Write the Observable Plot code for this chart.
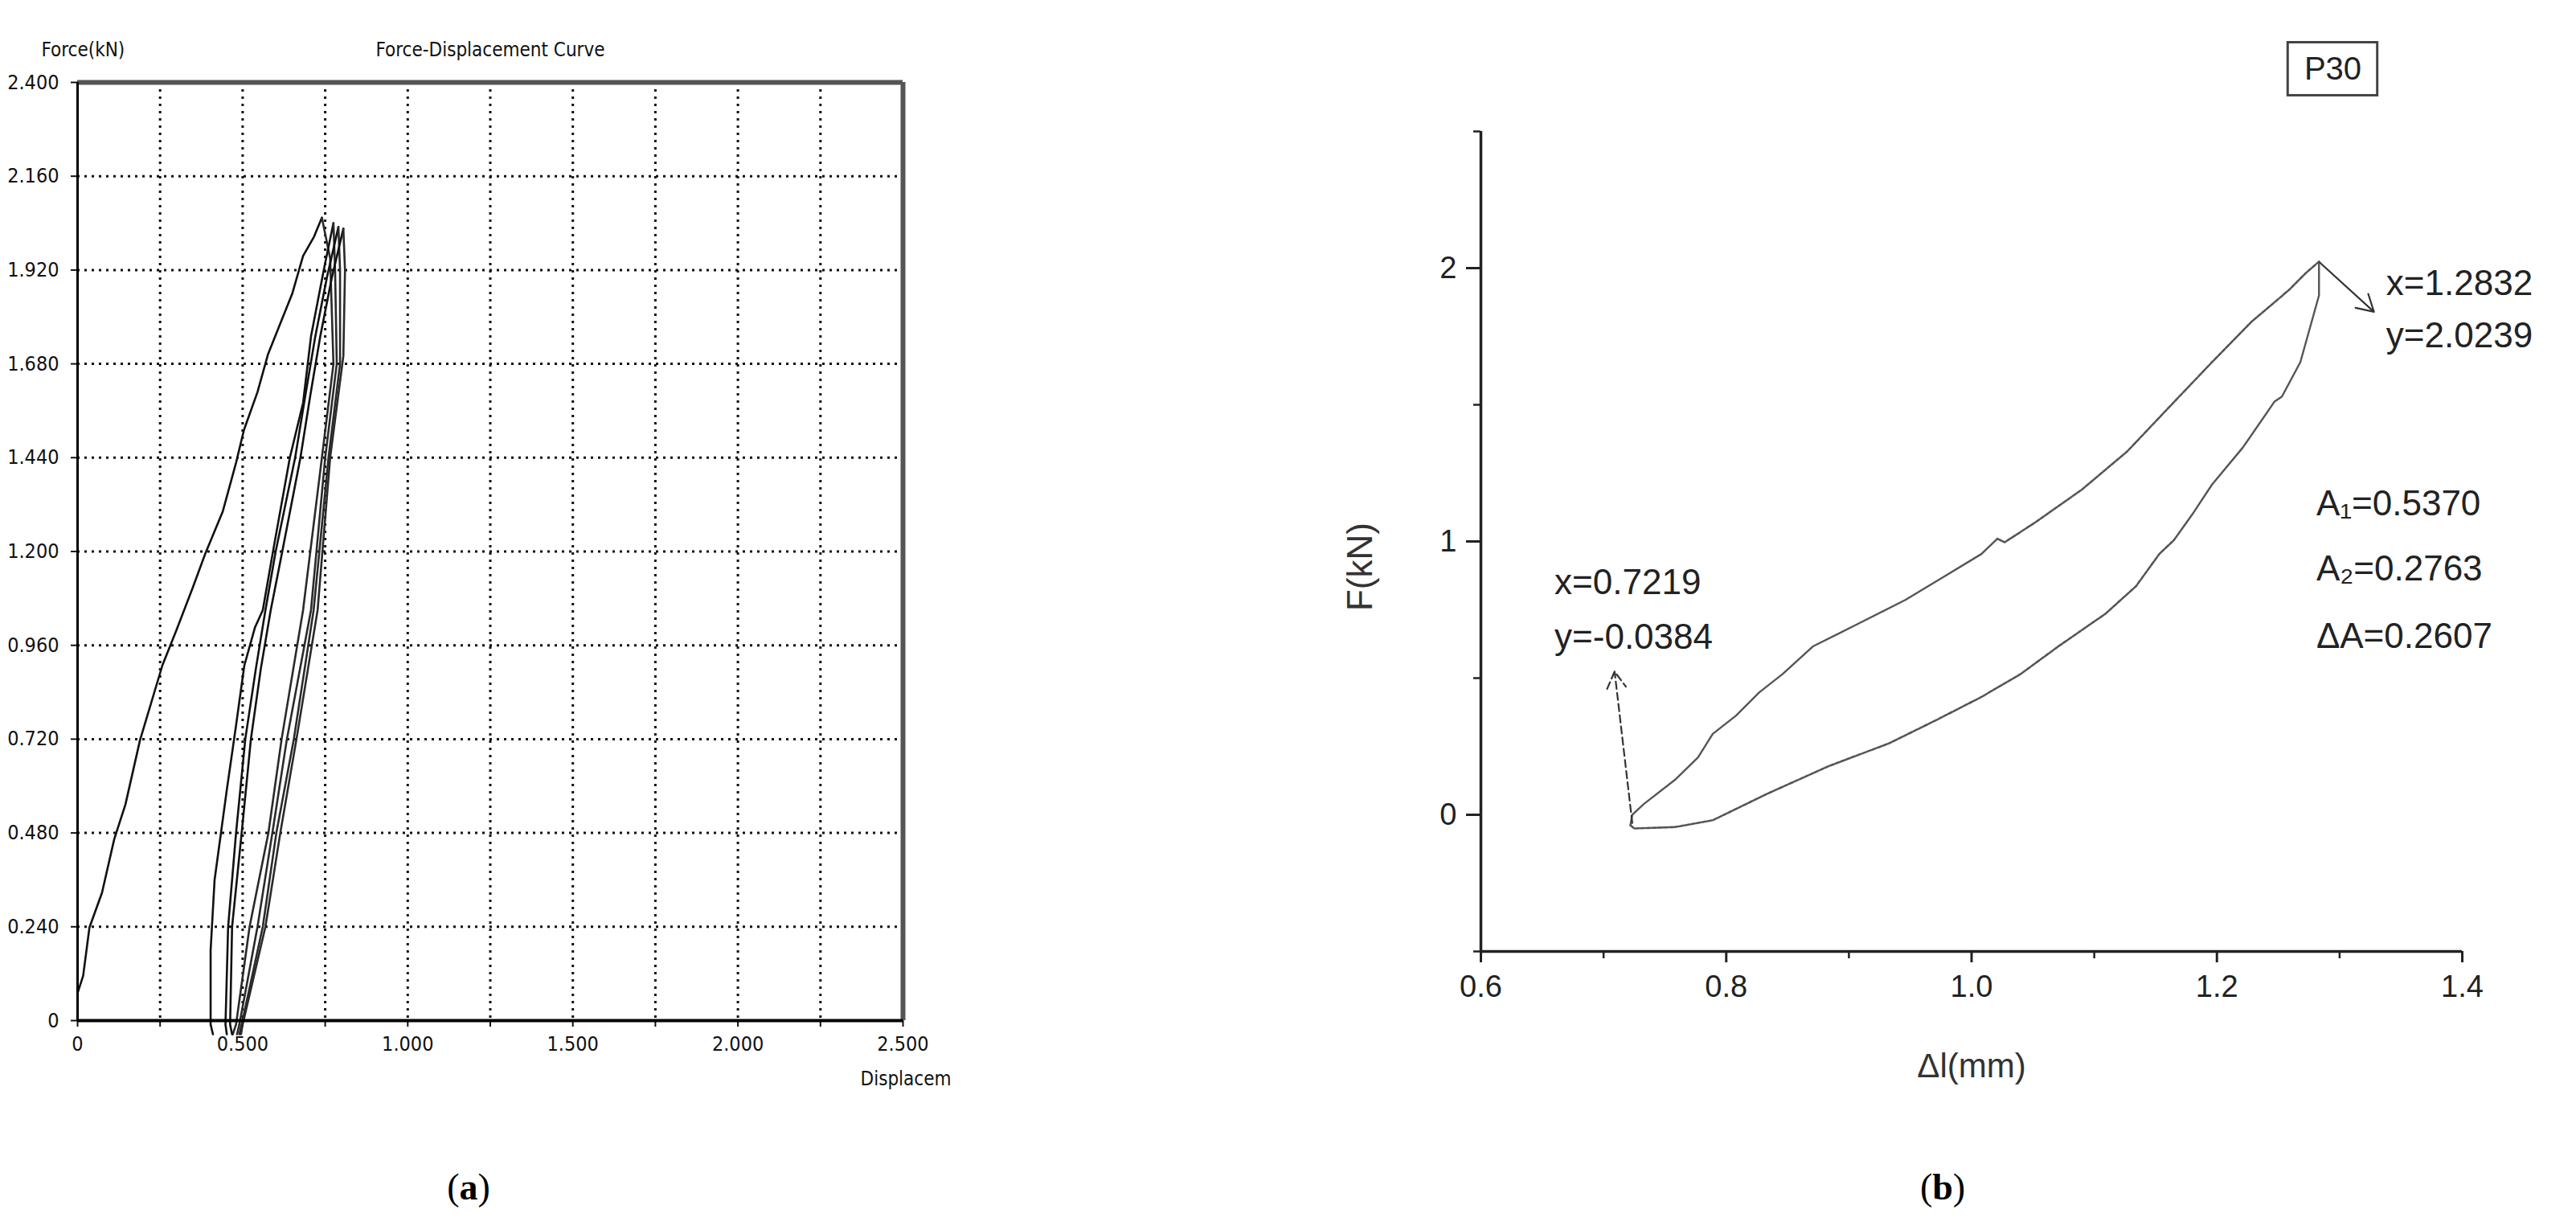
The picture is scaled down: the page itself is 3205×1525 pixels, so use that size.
<!DOCTYPE html>
<html>
<head>
<meta charset="utf-8">
<script src="https://cdn.jsdelivr.net/npm/d3@7"></script>
<script src="https://cdn.jsdelivr.net/npm/@observablehq/plot@0.6"></script>
<style>
  html, body { margin: 0; padding: 0; background: #fff; }
  #page { position: relative; width: 3205px; height: 1525px; overflow: hidden; background: #fff; }
  #pa { position: absolute; left: 0; top: 0; }
  #pb { position: absolute; left: 1600px; top: 0; }
  .cap { position: absolute; top: 1450px; font-family: "Liberation Serif", "DejaVu Serif", serif; font-size: 46px; color: #000; transform: translateX(-50%); }
</style>
</head>
<body>
<div id="page">
  <div id="pa"></div>
  <div id="pb"></div>
  <div class="cap" style="left:583px">(<b>a</b>)</div>
  <div class="cap" style="left:2417px">(<b>b</b>)</div>
</div>
<script>
// ---------- Panel (a) data ----------
const aXTicks = [0, 0.25, 0.5, 0.75, 1, 1.25, 1.5, 1.75, 2, 2.25, 2.5];
const aXLabels = {0: "0", 0.5: "0.500", 1: "1.000", 1.5: "1.500", 2: "2.000", 2.5: "2.500"};
const aYTicks = [0, 0.24, 0.48, 0.72, 0.96, 1.2, 1.44, 1.68, 1.92, 2.16, 2.4];
const aYLabels = ["0", "0.240", "0.480", "0.720", "0.960", "1.200", "1.440", "1.680", "1.920", "2.160", "2.400"];
const aTitle = "Force-Displacement Curve";
const aYTitle = "Force(kN)";
const aXTitle = "Displacem";

// first loading curve
const aLoad0X = [0, 0.017, 0.036, 0.074, 0.111, 0.145, 0.189, 0.257, 0.30, 0.35, 0.387, 0.44, 0.48, 0.504, 0.545, 0.577, 0.61, 0.65, 0.683, 0.716, 0.74];
const aLoad0Y = [0.07, 0.115, 0.238, 0.327, 0.464, 0.553, 0.717, 0.909, 1.0, 1.11, 1.195, 1.303, 1.427, 1.511, 1.608, 1.705, 1.775, 1.859, 1.956, 2.005, 2.054];
// unloading branches
const aUn1X = [0.740, 0.765, 0.775, 0.74, 0.683, 0.618, 0.578, 0.521, 0.48, 0.47];
const aUn1Y = [2.054, 1.95, 1.68, 1.44, 1.05, 0.72, 0.48, 0.24, -0.01, -0.035];
const aUn2X = [0.775, 0.78, 0.785, 0.75, 0.707, 0.634, 0.59, 0.545, 0.49, 0.483];
const aUn2Y = [2.04, 1.92, 1.68, 1.44, 1.05, 0.72, 0.48, 0.24, -0.01, -0.035];
const aUn3X = [0.79, 0.795, 0.795, 0.76, 0.715, 0.655, 0.602, 0.561, 0.497, 0.49];
const aUn3Y = [2.03, 1.92, 1.68, 1.44, 1.05, 0.72, 0.48, 0.24, -0.01, -0.035];
const aUn4X = [0.805, 0.81, 0.805, 0.765, 0.727, 0.663, 0.614, 0.569, 0.50, 0.495];
const aUn4Y = [2.026, 1.92, 1.70, 1.44, 1.05, 0.72, 0.48, 0.24, -0.01, -0.035];
// reloading branches
const aRe1X = [0.41, 0.403, 0.403, 0.415, 0.452, 0.48, 0.505, 0.537, 0.561, 0.594, 0.643, 0.683, 0.707, 0.732, 0.748, 0.775];
const aRe1Y = [-0.035, -0.01, 0.18, 0.36, 0.59, 0.755, 0.908, 1.005, 1.05, 1.21, 1.44, 1.58, 1.75, 1.86, 1.93, 2.04];
const aRe2X = [0.452, 0.448, 0.456, 0.48, 0.508, 0.54, 0.569, 0.60, 0.659, 0.69, 0.72, 0.755, 0.79];
const aRe2Y = [-0.035, -0.01, 0.24, 0.48, 0.72, 0.9, 1.05, 1.2, 1.44, 1.6, 1.75, 1.9, 2.03];
const aRe3X = [0.468, 0.462, 0.468, 0.497, 0.525, 0.555, 0.585, 0.62, 0.675, 0.705, 0.735, 0.77, 0.805];
const aRe3Y = [-0.035, -0.01, 0.24, 0.48, 0.72, 0.9, 1.05, 1.2, 1.44, 1.6, 1.75, 1.9, 2.026];

// ---------- Panel (b) data ----------
const bXMajor = [0.6, 0.8, 1.0, 1.2, 1.4];
const bXMinor = [0.7, 0.9, 1.1, 1.3];
const bYMajor = [0, 1, 2];
const bYMinor = [-0.5, 0.5, 1.5, 2.5];
const bXTitle = "\u0394l(mm)";
const bYTitle = "F(kN)";
const bYTitlePos = {x: 0.502, y: 0.907};
const bTag = "P30";
const bTagBox = {x1: 1.258, x2: 1.331, y1: 2.631, y2: 2.825};

// upper branch: solid part then serrated part
const bUpSolidX = [0.7219, 0.7234, 0.733, 0.758, 0.777, 0.789, 0.808, 0.827, 0.846, 0.871, 0.908, 0.946, 0.977, 1.008, 1.021];
const bUpSolidY = [-0.0384, 0.0, 0.04, 0.127, 0.21, 0.296, 0.363, 0.448, 0.515, 0.617, 0.70, 0.786, 0.87, 0.954, 1.01];
const bUpStepX = [1.021, 1.027, 1.052, 1.09, 1.127, 1.165, 1.196, 1.228, 1.259, 1.272, 1.2832];
const bUpStepY = [1.01, 0.997, 1.07, 1.19, 1.33, 1.51, 1.656, 1.803, 1.921, 1.98, 2.0239];
// lower branch: serrated part then solid part
const bLoStepX = [0.7219, 0.725, 0.758, 0.789, 0.833, 0.883, 0.933, 0.971, 1.008, 1.04, 1.071, 1.109, 1.134, 1.153, 1.165];
const bLoStepY = [-0.0384, -0.05, -0.045, -0.02, 0.076, 0.177, 0.262, 0.346, 0.431, 0.515, 0.617, 0.735, 0.836, 0.954, 1.005];
const bLoSolidX = [1.165, 1.181, 1.196, 1.221, 1.247, 1.253, 1.268, 1.2832, 1.2832];
const bLoSolidY = [1.005, 1.106, 1.208, 1.343, 1.512, 1.53, 1.656, 1.90, 2.0239];

const bPeakArrow = [{x1: 1.284, y1: 2.02, x2: 1.328, y2: 1.84}];
const bMinArrow = [{x1: 0.7234, y1: -0.03, x2: 0.709, y2: 0.524}];
const bLabelX = [1.338, 1.338, 0.660, 0.660, 1.281, 1.281, 1.281];
const bLabelY = [1.944, 1.753, 0.849, 0.649, 1.137, 0.899, 0.652];
const bLabelText = ["x=1.2832", "y=2.0239", "x=0.7219", "y=-0.0384", "A\u2081=0.5370", "A\u2082=0.2763", "\u0394A=0.2607"];

// ---------- helpers ----------
const pts = (xs, ys) => xs.map((x, i) => ({x, y: ys[i]}));

// ---------- Panel (a) ----------
const narrow = "'Liberation Sans Narrow', 'DejaVu Sans Condensed', 'Arial Narrow', sans-serif";
const aLines = [
  pts(aLoad0X, aLoad0Y), pts(aUn1X, aUn1Y), pts(aRe1X, aRe1Y), pts(aUn2X, aUn2Y),
  pts(aRe2X, aRe2Y), pts(aUn3X, aUn3Y), pts(aRe3X, aRe3Y), pts(aUn4X, aUn4Y)
];
const aLineMarks = aLines.map((d, i) => Plot.line(d, {x: "x", y: "y", stroke: i % 2 ? "#2a2a2a" : "#111", strokeWidth: 2.6}));

const plotA = Plot.plot({
  width: 1200, height: 1345,
  marginLeft: 96, marginRight: 77, marginTop: 102, marginBottom: 76,
  x: {domain: [0, 2.5], nice: false},
  y: {domain: [0, 2.4], nice: false},
  style: {fontFamily: narrow, fontSize: "25px", color: "#111", background: "transparent", overflow: "visible"},
  marks: [
    Plot.gridX(aXTicks, {stroke: "#111", strokeOpacity: 1, strokeWidth: 3, strokeDasharray: "3,6"}),
    Plot.gridY(aYTicks, {stroke: "#111", strokeOpacity: 1, strokeWidth: 3, strokeDasharray: "3,6"}),
    Plot.axisX(aXTicks, {tickSize: 8, tickPadding: 12, strokeWidth: 2, tickFormat: d => aXLabels[d] ?? "", label: null, fontSize: 25}),
    Plot.axisY(aYTicks, {tickSize: 8, tickPadding: 15, strokeWidth: 2, tickFormat: d => aYLabels[aYTicks.indexOf(d)], label: null, fontSize: 25}),
    ...aLineMarks,
    Plot.ruleY([2.4], {stroke: "#555", strokeWidth: 6}),
    Plot.ruleX([2.5], {stroke: "#555", strokeWidth: 6}),
    Plot.ruleX([0], {stroke: "#000", strokeWidth: 3}),
    Plot.ruleY([0], {stroke: "#000", strokeWidth: 4}),
    Plot.text([aTitle], {frameAnchor: "top", lineAnchor: "middle", dy: -40, fontSize: 24, fill: "#111"}),
    Plot.text([aYTitle], {frameAnchor: "top-left", textAnchor: "start", lineAnchor: "middle", dx: -45, dy: -40, fontSize: 24, fill: "#111"}),
    Plot.text([aXTitle], {frameAnchor: "bottom-right", textAnchor: "start", lineAnchor: "middle", dx: -53, dy: 73, fontSize: 24, fill: "#111"})
  ]
});
document.getElementById("pa").appendChild(plotA);

// ---------- Panel (b) ----------
const sans = "'Liberation Sans', Arial, sans-serif";
const bLabels = bLabelX.map((x, i) => ({x, y: bLabelY[i], t: bLabelText[i]}));
const plotB = Plot.plot({
  width: 1605, height: 1420,
  marginLeft: 242, marginRight: 142, marginTop: 163, marginBottom: 237,
  x: {domain: [0.6, 1.4], nice: false},
  y: {domain: [-0.5, 2.5], nice: false},
  style: {fontFamily: sans, fontSize: "36px", color: "#222", background: "transparent", overflow: "visible"},
  marks: [
    Plot.axisX(bXMajor, {tickSize: 14, tickPadding: 16, strokeWidth: 3, tickFormat: d => d.toFixed(1), label: null, fontSize: 38}),
    Plot.axisX(bXMinor, {tickSize: 9, strokeWidth: 2.5, tickFormat: () => "", label: null}),
    Plot.axisY(bYMajor, {tickSize: 18, tickPadding: 12, strokeWidth: 3, tickFormat: d => String(d), label: null, fontSize: 38}),
    Plot.axisY(bYMinor, {tickSize: 9, strokeWidth: 2.5, tickFormat: () => "", label: null}),
    Plot.ruleX([0.6], {stroke: "#222", strokeWidth: 3.5}),
    Plot.ruleY([-0.5], {stroke: "#222", strokeWidth: 3.5}),
    Plot.line(pts(bUpSolidX, bUpSolidY), {x: "x", y: "y", stroke: "#555", strokeWidth: 2.4}),
    Plot.line(pts(bUpStepX, bUpStepY), {x: "x", y: "y", stroke: "#555", strokeWidth: 2.6, strokeDasharray: "5,2"}),
    Plot.line(pts(bLoStepX, bLoStepY), {x: "x", y: "y", stroke: "#555", strokeWidth: 2.6, strokeDasharray: "5,2"}),
    Plot.line(pts(bLoSolidX, bLoSolidY), {x: "x", y: "y", stroke: "#555", strokeWidth: 2.4}),
    Plot.arrow(bPeakArrow, {x1: "x1", y1: "y1", x2: "x2", y2: "y2", stroke: "#333", strokeWidth: 2.2, headLength: 16}),
    Plot.arrow(bMinArrow, {x1: "x1", y1: "y1", x2: "x2", y2: "y2", stroke: "#333", strokeWidth: 2.2, headLength: 16, strokeDasharray: "9,5"}),
    Plot.text(bLabels, {x: "x", y: "y", text: "t", textAnchor: "start", lineAnchor: "middle", fontSize: 44, fill: "#222"}),
    Plot.rect([bTagBox], {x1: "x1", x2: "x2", y1: "y1", y2: "y2", fill: "none", stroke: "#444", strokeWidth: 3}),
    Plot.text([bTag], {x: () => (bTagBox.x1 + bTagBox.x2) / 2, y: () => (bTagBox.y1 + bTagBox.y2) / 2, lineAnchor: "middle", fontSize: 40, fill: "#222"}),
    Plot.text([bYTitlePos], {x: "x", y: "y", text: () => bYTitle, rotate: -90, lineAnchor: "middle", fontSize: 44, fill: "#333"}),
    Plot.text([bXTitle], {frameAnchor: "bottom", dy: 143, lineAnchor: "middle", fontSize: 42, fill: "#333"})
  ]
});
document.getElementById("pb").appendChild(plotB);
</script>
</body>
</html>
